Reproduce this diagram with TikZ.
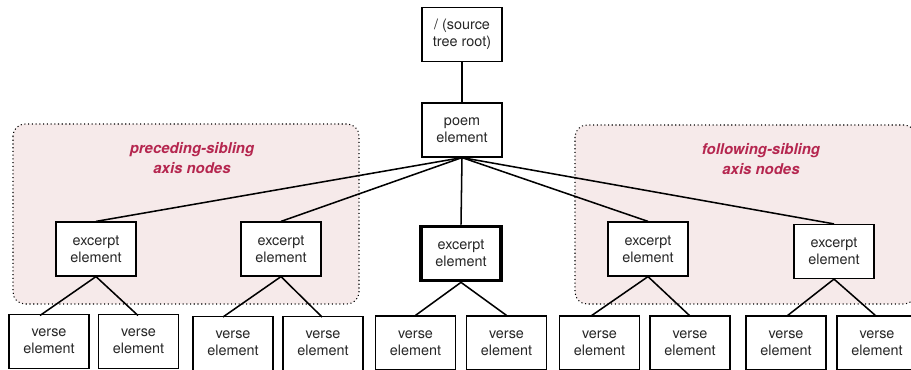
\documentclass[tikz,border=0pt]{standalone}
\usepackage{fontspec}
\setmainfont{TeX Gyre Heros}
\definecolor{regfill}{HTML}{F6EAEA}
\definecolor{labred}{HTML}{B5264F}
\definecolor{boxtext}{HTML}{262626}
\begin{document}
\begin{tikzpicture}[x=0.75pt,y=-0.75pt,
  box/.style={draw=black,line width=0.9pt,fill=white,text=boxtext,minimum width=60pt,minimum height=40.5pt,inner sep=0pt,align=center,font=\fontsize{10.8}{12.75}\selectfont},
  selbox/.style={box,line width=2.8pt},
  edge/.style={line width=1.15pt},
  region/.style={draw=black,dotted,line width=0.8pt,fill=regfill,rounded corners=9pt},
  axislab/.style={text=labred,font=\fontsize{11.2}{15}\selectfont\bfseries\itshape,align=center}]
\useasboundingbox (0,0) rectangle (911,370);
% regions
\draw[region] (13,124) rectangle (359,304);
\draw[region] (575,125) rectangle (916,304);
\node[axislab] (pl) at (192,158) {preceding-sibling\\axis nodes};
\node[axislab] (fl) at (761,159) {following-sibling\\axis nodes};
% nodes
\node[box] (root) at (462,34.5) {/ (source\\tree root)};
\node[box] (poem) at (462,130) {poem\\element};
\node[box] (e1) at (96,249) {excerpt\\element};
\node[box] (e2) at (281,249) {excerpt\\element};
\node[selbox] (e3) at (461,253.5) {excerpt\\element};
\node[box] (e4) at (648,249) {excerpt\\element};
\node[box] (e5) at (834,251.5) {excerpt\\element};
\node[box] (v1) at (49,341.5) {verse\\element};
\node[box] (v2) at (138.5,341.5) {verse\\element};
\node[box] (v3) at (233,343.5) {verse\\element};
\node[box] (v4) at (323,343.5) {verse\\element};
\node[box] (v5) at (415.5,343) {verse\\element};
\node[box] (v6) at (506.5,343) {verse\\element};
\node[box] (v7) at (599.5,343) {verse\\element};
\node[box] (v8) at (690,343) {verse\\element};
\node[box] (v9) at (786,343) {verse\\element};
\node[box] (v10) at (877,343) {verse\\element};
% edges
\draw[edge] (root.south) -- (poem.north);
\foreach \e in {e1,e2,e3,e4,e5} \draw[edge] (poem.south) -- (\e.north);
\draw[edge] (e1.south) -- (40,315.5);
\draw[edge] (e1.south) -- (138,315.5);
\draw[edge] (e2.south) -- (223,317);
\draw[edge] (e2.south) -- (322,317);
\draw[edge] (e3.south) -- (v5.north);
\draw[edge] (e3.south) -- (v6.north);
\draw[edge] (e4.south) -- (591,316);
\draw[edge] (e4.south) -- (690,316);
\draw[edge] (e5.south) -- (787,316);
\draw[edge] (e5.south) -- (876,316);
\end{tikzpicture}
\end{document}
